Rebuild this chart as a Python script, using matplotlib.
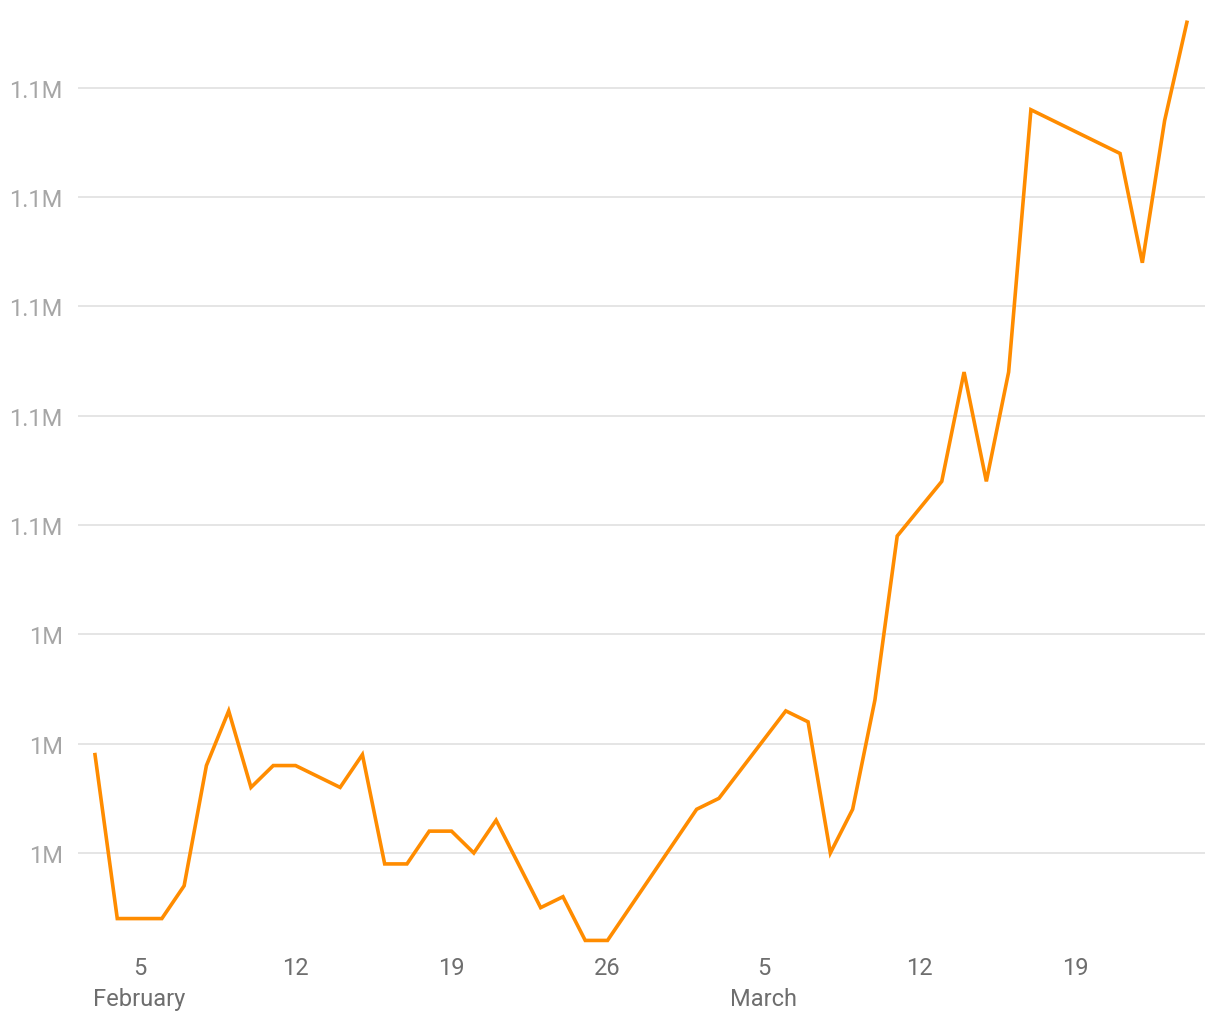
import matplotlib
matplotlib.use("Agg")
import matplotlib.pyplot as plt
import matplotlib.dates as mdates
import pandas as pd

plt.rcParams['font.family'] = ['Roboto', 'DejaVu Sans']

dates = ["2021-02-03", "2021-02-04", "2021-02-05", "2021-02-06", "2021-02-07",
         "2021-02-08", "2021-02-09", "2021-02-10", "2021-02-11", "2021-02-12",
         "2021-02-14", "2021-02-15", "2021-02-16", "2021-02-17", "2021-02-18",
         "2021-02-19", "2021-02-20", "2021-02-21", "2021-02-23", "2021-02-24",
         "2021-02-25", "2021-02-26", "2021-03-02", "2021-03-03", "2021-03-06",
         "2021-03-07", "2021-03-08", "2021-03-09", "2021-03-10", "2021-03-11",
         "2021-03-13", "2021-03-14", "2021-03-15", "2021-03-16", "2021-03-17",
         "2021-03-21", "2021-03-22", "2021-03-23", "2021-03-24"]
values = [1029000, 1014000, 1014000, 1014000, 1017000,
          1028000, 1033000, 1026000, 1028000, 1028000,
          1026000, 1029000, 1019000, 1019000, 1022000,
          1022000, 1020000, 1023000, 1015000, 1016000,
          1012000, 1012000, 1024000, 1025000, 1033000,
          1032000, 1020000, 1024000, 1034000, 1049000,
          1054000, 1064000, 1054000, 1064000, 1088000,
          1084000, 1074000, 1087000, 1096000]

y_ticks = [1020000, 1030000, 1040000, 1050000, 1060000, 1070000, 1080000, 1090000]
y_tick_labels = ["1M", "1M", "1M", "1.1M", "1.1M", "1.1M", "1.1M", "1.1M"]
x_ticks = ["2021-02-05", "2021-02-12", "2021-02-19", "2021-02-26",
           "2021-03-05", "2021-03-12", "2021-03-19"]
x_tick_labels = ["5\nFebruary", "12", "19", "26", "5\nMarch", "12", "19"]

x = pd.to_datetime(dates)

fig = plt.figure(figsize=(12.2, 10.2), dpi=100)
ax = fig.add_axes([78/1220, 1 - 947/1020, (1205-78)/1220, 930/1020])

ax.plot(x, values, color="#FF8C00", linewidth=2.6, solid_joinstyle="miter", zorder=3)

ax.set_yticks(y_ticks)
ax.set_yticklabels(y_tick_labels)
ax.set_ylim(1011491, 1096577)

xt = pd.to_datetime(x_ticks)
ax.set_xticks(xt)
ax.set_xticklabels(x_tick_labels, linespacing=1.45)
ax.set_xlim(pd.Timestamp("2021-02-03") - pd.Timedelta(hours=18.3),
            pd.Timestamp("2021-03-24") + pd.Timedelta(hours=19.5))

ax.grid(axis="y", color="#e3e3e3", linewidth=1.3, zorder=0)
ax.grid(axis="x", visible=False)
for s in ax.spines.values():
    s.set_visible(False)
ax.tick_params(axis="y", length=0, pad=11, labelsize=17, labelcolor="#a6a6a6")
ax.tick_params(axis="x", length=0, pad=7, labelsize=17, labelcolor="#6e6e6e")
for lab in ax.get_xticklabels():
    lab.set_verticalalignment("top")

fig.savefig("out.png", dpi=100, facecolor="white")
